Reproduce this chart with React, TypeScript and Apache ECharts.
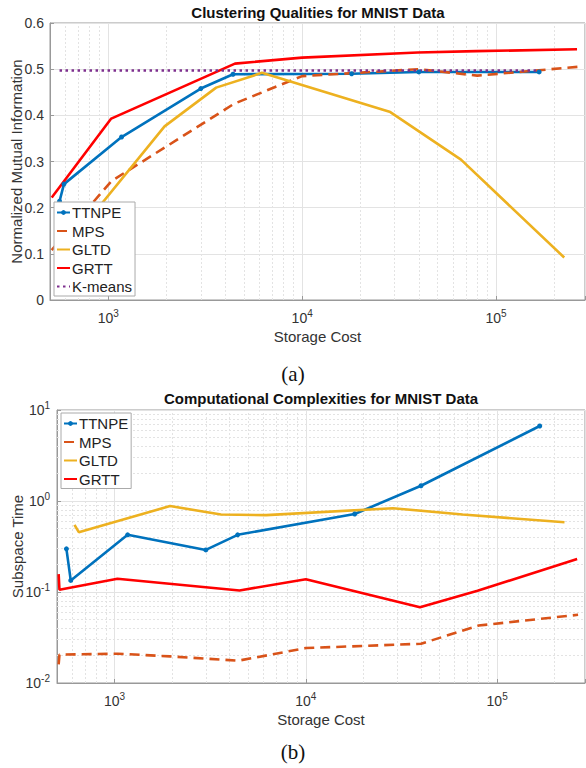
import React, { useEffect, useRef } from "react";
import * as echarts from "echarts";

// ---------- data ----------
const ttnpeX = [560, 590, 1170, 3000, 4400, 18000, 40000, 167000];
const ttnpeNMI = [0.214, 0.251, 0.353, 0.458, 0.489, 0.49, 0.494, 0.494];
const ttnpeTime = [0.298, 0.134, 0.425, 0.29, 0.425, 0.72, 1.47, 6.67];

const mpsX = [510, 515, 1040, 1950, 4450, 10000, 40000, 80000, 265000];
const mpsNMI = [0.108, 0.11, 0.258, 0.33, 0.425, 0.485, 0.5, 0.486, 0.505];
const mpsTime = [0.016, 0.0205, 0.021, 0.0196, 0.0176, 0.0242, 0.027, 0.0428, 0.0562];

const gltdX = [617, 650, 1950, 3600, 6200, 28500, 66000, 225000];
const gltdNMI = [0.14, 0.13, 0.376, 0.46, 0.492, 0.407, 0.304, 0.092];
const gltdTime = [0.547, 0.454, 0.88, 0.71, 0.7, 0.834, 0.71, 0.585];

const grttX = [510, 515, 1035, 4500, 10000, 39500, 79000, 262000];
const grttNMI = [0.222, 0.224, 0.393, 0.512, 0.525, 0.536, 0.539, 0.543];
const grttTime = [0.157, 0.106, 0.14, 0.104, 0.138, 0.068, 0.103, 0.231];

const kmeansX = [560, 167000];
const kmeansNMI = [0.497, 0.497];

const namesTop = ["TTNPE", "MPS", "GLTD", "GRTT", "K-means"];
const namesBottom = ["TTNPE", "MPS", "GLTD", "GRTT"];
const namesWithMarker = ["TTNPE"];

const titleTop = "Clustering Qualities for MNIST Data";
const titleBottom = "Computational Complexities for MNIST Data";
const xName = "Storage Cost";
const yNameTop = "Normalized Mutual Information";
const yNameBottom = "Subspace Time";

const X_MIN = 500;
const X_MAX = 288000;

// minor log grid values (2..9 x 10^k)
function minorLogValues(kFrom: number, kTo: number, lo: number, hi: number) {
  const out: number[] = [];
  for (let k = kFrom; k <= kTo; k++) {
    for (let m = 2; m <= 9; m++) {
      const v = m * Math.pow(10, k);
      if (v > lo && v < hi) out.push(v);
    }
  }
  return out;
}

const FONT = '"Liberation Sans", Arial, Helvetica, sans-serif';
const C = {
  ttnpe: "#0072BD",
  mps: "#D95319",
  gltd: "#EDB120",
  grtt: "#FF0000",
  km: "#7E2F8E",
};

const zip = (xs: number[], ys: number[]) => xs.map((x, i) => [x, ys[i]]);

const powLabel = (v: number) => {
  const e = Math.log10(v);
  const r = Math.round(e);
  if (Math.abs(e - r) > 1e-6) return "";
  return `{b|10}{s|${r}}`;
};

const richPow = {
  b: { fontSize: 14, color: "#333", fontFamily: FONT },
  s: { fontSize: 10, color: "#333", fontFamily: FONT, padding: [0, 0, 9, 0] },
};

const legendData = (names: string[]) =>
  names.map((n) =>
    namesWithMarker.includes(n) ? { name: n } : { name: n, itemStyle: { opacity: 0 } }
  );

export default function App() {
  const ref = useRef<HTMLDivElement>(null);

  useEffect(() => {
    if (!ref.current) return;
    const chart = echarts.init(ref.current, undefined, { renderer: "svg" });

    const minorX = minorLogValues(2, 5, X_MIN, X_MAX);
    const minorY = minorLogValues(-2, 0, 0.01, 10);

    const axisCommon = {
      axisLine: { show: true, lineStyle: { color: "#999", width: 1 } },
      axisTick: { show: true, inside: true, length: 4, lineStyle: { color: "#999" } },
      nameTextStyle: { fontSize: 15, color: "#333", fontFamily: FONT },
      nameMoveOverlap: false,
    };

    const lineSeries = (
      name: string,
      data: number[][],
      color: string,
      gi: number,
      type: any = "solid",
      symbol = "none"
    ) => ({
      type: "line",
      name,
      data,
      xAxisIndex: gi,
      yAxisIndex: gi,
      symbol,
      symbolSize: 5,
      showSymbol: symbol !== "none",
      itemStyle: { color },
      lineStyle: { color, width: 2.6, type },
      z: 3,
    });

    const legendCommon = {
      orient: "vertical",
      itemWidth: 13,
      itemHeight: 6,
      itemGap: 3.5,
      padding: [3, 3, 2, 2],
      backgroundColor: "#fff",
      borderColor: "#aaa",
      borderWidth: 1,
      borderRadius: 0,
      z: 10,
      textStyle: { fontSize: 15, color: "#222", fontFamily: FONT, padding: [0, 0, 0, -3] },
      selectedMode: false,
    };

    const minorMark = (items: any[]) => ({
      silent: true,
      z: 1,
      symbol: "none",
      label: { show: false },
      lineStyle: { color: "#e3e3e3", type: [2, 2], width: 1 },
      data: items,
    });

    const gridCommon = {
      show: true,
      borderColor: "#999",
      borderWidth: 1,
      backgroundColor: "#fff",
      containLabel: false,
      outerBoundsMode: "none",
    };

    const option: any = {
      animation: false,
      textStyle: { fontFamily: FONT },
      grid: [
        { ...gridCommon, left: 50, top: 23, width: 535, height: 277 },
        { ...gridCommon, left: 57, top: 410, width: 528, height: 273 },
      ],
      xAxis: [0, 1].map((gi) => ({
        ...axisCommon,
        type: "log",
        logBase: 10,
        gridIndex: gi,
        min: X_MIN,
        max: X_MAX,
        name: xName,
        nameLocation: "middle",
        nameGap: 29,
        axisLabel: { formatter: powLabel, rich: richPow, margin: 8, color: "#333" },
        splitLine: { show: true, lineStyle: { color: "#e3e3e3", width: 1 } },
      })),
      yAxis: [
        {
          ...axisCommon,
          type: "value",
          gridIndex: 0,
          min: 0,
          max: 0.6,
          interval: 0.1,
          name: yNameTop,
          nameLocation: "middle",
          nameGap: 26,
          axisLabel: { fontSize: 14, color: "#333", margin: 6, fontFamily: FONT },
          splitLine: { show: true, lineStyle: { color: "#e3e3e3", width: 1 } },
        },
        {
          ...axisCommon,
          type: "log",
          logBase: 10,
          gridIndex: 1,
          min: 0.01,
          max: 10,
          name: yNameBottom,
          nameLocation: "middle",
          nameGap: 32,
          axisLabel: { formatter: powLabel, rich: richPow, margin: 7, color: "#333" },
          splitLine: { show: true, lineStyle: { color: "#e3e3e3", width: 1 } },
        },
      ],
      legend: [
        { ...legendCommon, data: legendData(namesTop), left: 54, top: 202 },
        { ...legendCommon, data: legendData(namesBottom), left: 61, top: 413 },
      ],
      graphic: [
        { type: "text", x: 318, y: 12, style: { text: titleTop, textAlign: "center", textVerticalAlign: "middle", font: `bold 15px ${FONT}`, fill: "#111" } },
        { type: "text", x: 321, y: 398, style: { text: titleBottom, textAlign: "center", textVerticalAlign: "middle", font: `bold 15px ${FONT}`, fill: "#111" } },
        { type: "text", x: 293, y: 374, style: { text: "(a)", textAlign: "center", textVerticalAlign: "middle", font: `21px "Liberation Serif", "Times New Roman", serif`, fill: "#111" } },
        { type: "text", x: 293, y: 752, style: { text: "(b)", textAlign: "center", textVerticalAlign: "middle", font: `21px "Liberation Serif", "Times New Roman", serif`, fill: "#111" } },
      ],
      series: [
        // minor grid lines, top chart
        {
          type: "line",
          xAxisIndex: 0,
          yAxisIndex: 0,
          data: [],
          silent: true,
          z: 1,
          markLine: minorMark(minorX.map((v) => ({ xAxis: v }))),
        },
        // minor grid lines, bottom chart
        {
          type: "line",
          xAxisIndex: 1,
          yAxisIndex: 1,
          data: [],
          silent: true,
          z: 1,
          markLine: minorMark([
            ...minorX.map((v) => ({ xAxis: v })),
            ...minorY.map((v) => ({ yAxis: v })),
          ]),
        },
        lineSeries("TTNPE", zip(ttnpeX, ttnpeNMI), C.ttnpe, 0, "solid", "circle"),
        lineSeries("MPS", zip(mpsX, mpsNMI), C.mps, 0, [10, 6]),
        lineSeries("GLTD", zip(gltdX, gltdNMI), C.gltd, 0),
        lineSeries("GRTT", zip(grttX, grttNMI), C.grtt, 0),
        lineSeries("K-means", zip(kmeansX, kmeansNMI), C.km, 0, [2.5, 3.5]),
        lineSeries("TTNPE", zip(ttnpeX, ttnpeTime), C.ttnpe, 1, "solid", "circle"),
        lineSeries("MPS", zip(mpsX, mpsTime), C.mps, 1, [10, 6]),
        lineSeries("GLTD", zip(gltdX, gltdTime), C.gltd, 1),
        lineSeries("GRTT", zip(grttX, grttTime), C.grtt, 1),
      ],
    };

    chart.setOption(option);
    return () => chart.dispose();
  }, []);

  return (
    <div
      ref={ref}
      style={{ position: "absolute", left: 0, top: 0, width: 586, height: 768, background: "#fff" }}
    />
  );
}
